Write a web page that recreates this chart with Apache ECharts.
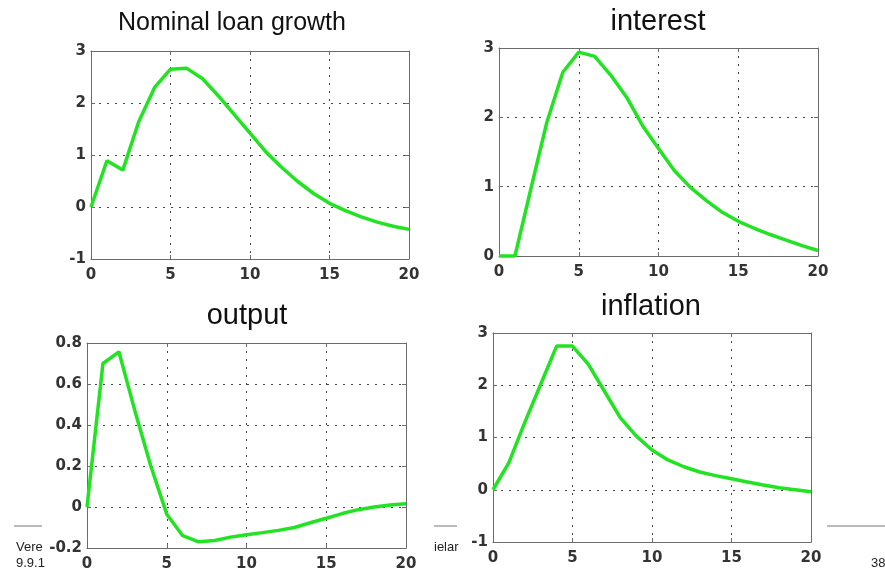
<!DOCTYPE html>
<html>
<head>
<meta charset="utf-8">
<script src="https://cdn.jsdelivr.net/npm/echarts@6/dist/echarts.min.js"></script>
<style>
html,body{margin:0;padding:0;background:#fff;}
#c{width:885px;height:572px;}
</style>
</head>
<body>
<div id="c"></div>
<script>
// ---- data ----
const periods = [0,1,2,3,4,5,6,7,8,9,10,11,12,13,14,15,16,17,18,19,20];
const loanGrowth = [0, 0.89, 0.71, 1.64, 2.30, 2.65, 2.67, 2.47, 2.14, 1.78, 1.42, 1.06, 0.76, 0.49, 0.26, 0.07, -0.07, -0.19, -0.29, -0.37, -0.43];
const interest = [0, 0, 0.97, 1.93, 2.65, 2.94, 2.88, 2.61, 2.29, 1.88, 1.55, 1.23, 0.99, 0.80, 0.63, 0.50, 0.40, 0.31, 0.23, 0.15, 0.08];
const output = [0, 0.70, 0.757, 0.47, 0.20, -0.035, -0.14, -0.17, -0.163, -0.147, -0.135, -0.125, -0.114, -0.10, -0.077, -0.055, -0.032, -0.013, 0.0, 0.01, 0.016];
const inflation = [0, 0.52, 1.29, 2.02, 2.75, 2.75, 2.40, 1.89, 1.38, 1.03, 0.76, 0.57, 0.44, 0.34, 0.27, 0.21, 0.15, 0.09, 0.04, 0.00, -0.04];
const titles = ['Nominal loan growth', 'interest', 'output', 'inflation'];
const yMins = [-1, 0, -0.2, -1];
const yMaxs = [3, 3, 0.8, 3];
const yIntervals = [1, 1, 0.2, 1];
const xMin = 0, xMax = 20, xInterval = 5;
const footerTexts = ['Vere', '9.9.1', 'ielar', '38'];

// ---- layout ----
const grids = [
  {left: 91, top: 51, width: 318, height: 208},
  {left: 499, top: 48, width: 319, height: 208},
  {left: 87, top: 343, width: 319, height: 208},
  {left: 493, top: 333, width: 318, height: 209}
];
const titlePos = [
  {x: 232, y: 23, size: 25},
  {x: 658, y: 22, size: 29},
  {x: 247, y: 316, size: 29},
  {x: 651, y: 307, size: 29}
];
const seriesData = [loanGrowth, interest, output, inflation];
const FONT = '"Liberation Sans", Arial, sans-serif';
const TICKFONT = '"DejaVu Sans", sans-serif';
const frameColor = '#6b6b6b';
const gridLine = {show: true, lineStyle: {color: '#444', width: 1, type: [2, 6]}};

const xAxis = [], yAxis = [], series = [];
grids.forEach((g, i) => {
  xAxis.push({
    type: 'value', gridIndex: i, min: xMin, max: xMax, interval: xInterval, position: 'bottom',
    axisLine: {show: true, onZero: false, lineStyle: {color: frameColor, width: 1}},
    axisTick: {show: true, inside: true, length: 4, lineStyle: {color: frameColor}},
    axisLabel: {show: true, margin: 9, color: '#333', fontSize: 15, fontWeight: 'bold', fontFamily: TICKFONT,
      formatter: v => String(v)},
    splitLine: gridLine
  });
  xAxis.push({
    type: 'value', gridIndex: i, min: xMin, max: xMax, interval: xInterval, position: 'top',
    axisLine: {show: true, onZero: false, lineStyle: {color: frameColor, width: 1}},
    axisTick: {show: true, inside: true, length: 4, lineStyle: {color: frameColor}},
    axisLabel: {show: false}, splitLine: {show: false}
  });
  yAxis.push({
    type: 'value', gridIndex: i, min: yMins[i], max: yMaxs[i], interval: yIntervals[i], position: 'left',
    axisLine: {show: true, onZero: false, lineStyle: {color: frameColor, width: 1}},
    axisTick: {show: true, inside: true, length: 4, lineStyle: {color: frameColor}},
    axisLabel: {show: true, margin: 5, color: '#333', fontSize: 15, fontWeight: 'bold', fontFamily: TICKFONT,
      formatter: v => String(Math.round(v * 10) / 10)},
    splitLine: gridLine
  });
  yAxis.push({
    type: 'value', gridIndex: i, min: yMins[i], max: yMaxs[i], interval: yIntervals[i], position: 'right',
    axisLine: {show: true, onZero: false, lineStyle: {color: frameColor, width: 1}},
    axisTick: {show: true, inside: true, length: 4, lineStyle: {color: frameColor}},
    axisLabel: {show: false}, splitLine: {show: false}
  });
  series.push({
    type: 'line', xAxisIndex: i * 2, yAxisIndex: i * 2,
    data: periods.map((p, k) => [p, seriesData[i][k]]),
    symbol: 'none', smooth: false, clip: false,
    lineStyle: {color: '#22e322', width: 3.5},
    z: 5
  });
});

const graphic = [];
titles.forEach((t, i) => {
  graphic.push({
    type: 'text', x: titlePos[i].x, y: titlePos[i].y, z: 10,
    style: {text: t, fill: '#111', font: titlePos[i].size + 'px ' + FONT, textAlign: 'center', textVerticalAlign: 'middle'}
  });
});
[[14, 42], [434, 457], [827, 885]].forEach(seg => {
  graphic.push({type: 'line', shape: {x1: seg[0], y1: 526, x2: seg[1], y2: 526}, style: {stroke: '#777', lineWidth: 1}});
});
const footerPos = [[16, 547], [16, 563], [434, 547], [871, 563]];
footerTexts.forEach((t, i) => {
  graphic.push({type: 'text', x: footerPos[i][0], y: footerPos[i][1],
    style: {text: t, fill: '#222', font: '13px ' + FONT, textAlign: 'left', textVerticalAlign: 'middle'}});
});

const chart = echarts.init(document.getElementById('c'), null, {renderer: 'canvas'});
chart.setOption({
  backgroundColor: '#fff',
  animation: false,
  grid: grids.map(g => Object.assign({containLabel: false}, g)),
  xAxis, yAxis, series, graphic
});
</script>
</body>
</html>
